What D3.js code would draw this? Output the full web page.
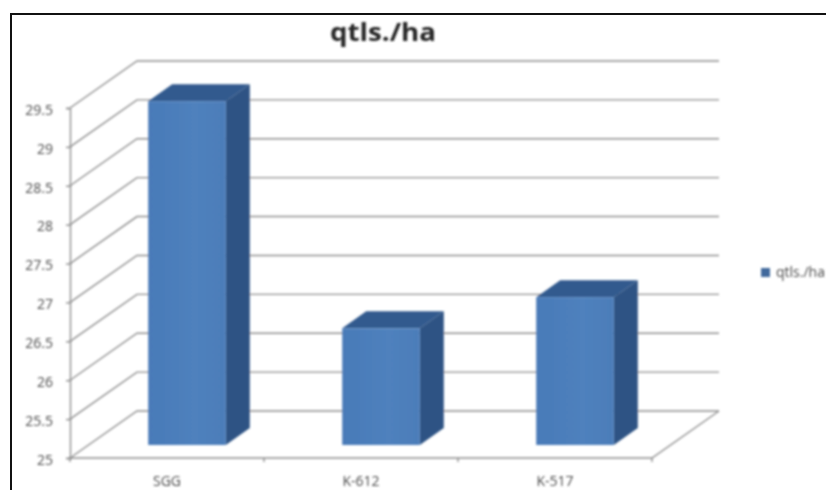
<!DOCTYPE html>
<html>
<head>
<meta charset="utf-8">
<script src="https://cdnjs.cloudflare.com/ajax/libs/d3/7.8.5/d3.min.js"></script>
<style>
  html, body { margin: 0; padding: 0; background: #fff; }
  svg { display: block; }
  .tick-label { font-family: "Open Sans", sans-serif; font-size: 14px; fill: #4a4a4a; }
</style>
</head>
<body>
<div id="main"></div>
<script>
///////////
// DATA  //
///////////
const categories = ["SGG", "K-612", "K-517"]
const values = [29.42, 26.5, 26.9]
const y_ticks = [25, 25.5, 26, 26.5, 27, 27.5, 28, 28.5, 29, 29.5]
const series_name = "qtls./ha"

///////////
// SETUP //
///////////
const width = 826
const height = 490

// the 3d box: front plane, how far the back wall sits, where bars stand
const WALL = [67, -47]
const BAR_PLANE = [20, -13]
const BAR_DEPTH = [24, -17]

const GRID = "#8f8f8f"

const x = d3.scaleBand()
    .domain(categories)
    .range([70, 652])
    .paddingInner(0.6)
    .paddingOuter(0.3)

const edges = d3.scaleLinear()
    .domain([0, categories.length])
    .range(x.range())

const y = d3.scaleLinear()
    .domain([25, 29.5])
    .range([458, 108])

const svg = d3.select("#main").append("svg")
    .attr("width", width)
    .attr("height", height)

// the reference is a soft, upscaled picture
const defs = svg.append("defs")
defs.append("filter").attr("id", "soft")
    .append("feGaussianBlur").attr("stdDeviation", 0.8)

const front = defs.append("linearGradient").attr("id", "front")
front.append("stop").attr("offset", "0%").attr("stop-color", "#487ab8")
front.append("stop").attr("offset", "60%").attr("stop-color", "#4f81bd")
front.append("stop").attr("offset", "100%").attr("stop-color", "#4c7db9")

//////////
// DRAW //
//////////
const plot = svg.append("g").attr("filter", "url(#soft)")

// gridlines run up the side wall then along the back wall
const right_end = x.range()[1] + WALL[0]
plot.selectAll("path.grid")
    .data(y_ticks)
    .enter().append("path")
        .attr("class", "grid")
        .attr("fill", "none")
        .attr("stroke", GRID)
        .attr("stroke-width", 1.4)
        .attr("d", d => d3.line()([
              [x.range()[0], y(d)]
            , [x.range()[0] + WALL[0], y(d) + WALL[1]]
            , [right_end, y(d) + WALL[1]]
        ]))

// floor
plot.append("path")
    .attr("fill", "none")
    .attr("stroke", GRID)
    .attr("stroke-width", 1.4)
    .attr("d", d3.line()([
          [x.range()[0], y(25)]
        , [x.range()[1], y(25)]
        , [right_end, y(25) + WALL[1]]
    ]))

// left axis
const y_axis = svg.append("g")
    .attr("transform", `translate(${x.range()[0]},0)`)
    .call(d3.axisLeft(y).tickValues(y_ticks).tickSize(4).tickPadding(13).tickFormat(d => d))
y_axis.attr("filter", "url(#soft)")
y_axis.select(".domain").attr("stroke", GRID).attr("stroke-width", 1.4)
y_axis.selectAll(".tick line").attr("stroke", GRID).attr("stroke-width", 1.4)
y_axis.selectAll(".tick text").attr("class", "tick-label").attr("dy", "0.45em")

// bottom axis, ticks sit between categories
plot.selectAll("line.x-tick")
    .data(d3.range(categories.length + 1))
    .enter().append("line")
        .attr("class", "x-tick")
        .attr("x1", d => edges(d))
        .attr("x2", d => edges(d))
        .attr("y1", y(25))
        .attr("y2", y(25) + 4)
        .attr("stroke", GRID)
        .attr("stroke-width", 1.4)

const x_axis = svg.append("g")
    .attr("transform", `translate(0,${y(25)})`)
    .call(d3.axisBottom(x).tickSize(0).tickPadding(18))
x_axis.attr("filter", "url(#soft)")
x_axis.select(".domain").remove()
x_axis.selectAll(".tick text").attr("class", "tick-label")

// bars
const bars = plot.selectAll("g.bar")
    .data(categories.map((c, i) => ({ name: c, value: values[i] })))
    .enter().append("g")
        .attr("class", "bar")
        .attr("transform", `translate(${BAR_PLANE[0]},${BAR_PLANE[1]})`)

const x0 = d => x(d.name)
const x1 = d => x(d.name) + x.bandwidth()
const top_y = d => y(d.value)
const base_y = y(25)

bars.append("path")
    .attr("fill", "#335a8e")
    .attr("d", d => d3.line()([
          [x0(d), top_y(d)]
        , [x0(d) + BAR_DEPTH[0], top_y(d) + BAR_DEPTH[1]]
        , [x1(d) + BAR_DEPTH[0], top_y(d) + BAR_DEPTH[1]]
        , [x1(d), top_y(d)]
    ]) + "Z")

bars.append("path")
    .attr("fill", "#2f5384")
    .attr("d", d => d3.line()([
          [x1(d), top_y(d)]
        , [x1(d) + BAR_DEPTH[0], top_y(d) + BAR_DEPTH[1]]
        , [x1(d) + BAR_DEPTH[0], base_y + BAR_DEPTH[1]]
        , [x1(d), base_y]
    ]) + "Z")

bars.append("rect")
    .attr("fill", "url(#front)")
    .attr("x", x0)
    .attr("y", top_y)
    .attr("width", x.bandwidth())
    .attr("height", d => base_y - top_y(d))

// title, the original is stretched wide
svg.append("text")
    .attr("x", 383)
    .attr("y", 41)
    .attr("text-anchor", "middle")
    .attr("font-family", "Open Sans, sans-serif")
    .attr("font-weight", 700)
    .attr("font-size", 25)
    .attr("textLength", 106)
    .attr("lengthAdjust", "spacingAndGlyphs")
    .attr("fill", "#262626")
    .attr("filter", "url(#soft)")
    .text(series_name)

// legend, runs right up to the edge
const legend = svg.append("g").attr("filter", "url(#soft)")
legend.append("rect")
    .attr("x", 761).attr("y", 268)
    .attr("width", 9).attr("height", 9)
    .attr("fill", "#41699c")
legend.append("text")
    .attr("x", 776).attr("y", 277)
    .attr("class", "tick-label")
    .text(series_name)

// frame: left and top only are in the crop
svg.append("path")
    .attr("fill", "none")
    .attr("stroke", "#111")
    .attr("stroke-width", 2)
    .attr("d", d3.line()([[11, height], [11, 14], [width, 14]]))
</script>
</body>
</html>
